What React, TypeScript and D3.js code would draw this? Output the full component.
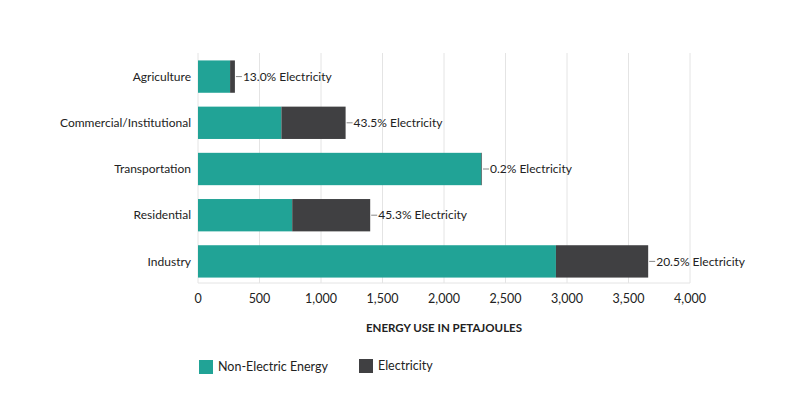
import React from 'react';
import * as d3 from 'd3';

// Energy use by sector, petajoules
const sectors = ['Agriculture', 'Commercial/Institutional', 'Transportation', 'Residential', 'Industry'];
const nonElectric = [261, 678, 2304, 766, 2910];
const electricity = [39, 522, 5, 634, 750];
const electricShare = ['13.0%', '43.5%', '0.2%', '45.3%', '20.5%'];
const xTicks = [0, 500, 1000, 1500, 2000, 2500, 3000, 3500, 4000];

const TEAL = '#21a396';
const DARK = '#404042';
const TEXT = '#222';
const FONT = 'Lato, "Open Sans", sans-serif';

export default function App() {
  const width = 801;
  const height = 396;
  const plotTop = 53;
  const plotBottom = 283;

  const x = d3.scaleLinear().domain([0, 4000]).range([198, 690]);
  const y = d3.scaleBand<string>()
    .domain(sectors)
    .range([plotTop + 0.5, plotBottom + 1.5])
    .paddingInner(0.3)
    .paddingOuter(0.15);

  const fmt = d3.format(',');

  return (
    <svg width={width} height={height} style={{ position: 'absolute', left: 0, top: 0 }} fontFamily={FONT}>
      <rect width={width} height={height} fill="#fff" />

      {/* Grid */}
      {xTicks.map(t => (
        <line key={t} x1={x(t)} x2={x(t)} y1={plotTop} y2={plotBottom} stroke="#e4e4e4" strokeWidth={1} />
      ))}
      <line x1={x(0)} x2={x(4000)} y1={plotBottom} y2={plotBottom} stroke="#e4e4e4" />

      {/* Tick labels */}
      {xTicks.map(t => (
        <text key={`l${t}`} x={x(t)} y={plotBottom + 20} textAnchor="middle" fontSize={12.5} fill={TEXT}>
          {fmt(t)}
        </text>
      ))}

      <text x={(x(0) + x(4000)) / 2} y={332} textAnchor="middle" fontSize={11.5} fontWeight="bold" fill={TEXT}>
        ENERGY USE IN PETAJOULES
      </text>

      {/* Bars */}
      {sectors.map((s, i) => {
        const y0 = y(s) ?? 0;
        const bw = y.bandwidth();
        const total = nonElectric[i] + electricity[i];
        const xe = x(total);
        return (
          <g key={s}>
            <text x={191} y={y0 + bw / 2} dy="0.35em" textAnchor="end" fontSize={12} fill={TEXT}>{s}</text>
            <rect x={x(0)} y={y0} width={x(nonElectric[i]) - x(0)} height={bw} fill={TEAL} />
            <rect x={x(nonElectric[i])} y={y0} width={x(total) - x(nonElectric[i])} height={bw} fill={DARK} />
            <line x1={xe + 1} x2={xe + 7} y1={y0 + bw / 2} y2={y0 + bw / 2} stroke="#888" strokeWidth={1} />
            <text x={xe + 8} y={y0 + bw / 2} dy="0.35em" fontSize={12} fill={TEXT}>
              {electricShare[i]} Electricity
            </text>
          </g>
        );
      })}

      {/* Legend */}
      <rect x={199} y={360} width={14} height={14} fill={TEAL} />
      <text x={218} y={367} dy="0.35em" fontSize={12.5} fill={TEXT}>Non-Electric Energy</text>
      <rect x={359} y={359} width={14} height={14} fill={DARK} />
      <text x={378} y={366} dy="0.35em" fontSize={12.5} fill={TEXT}>Electricity</text>
    </svg>
  );
}
